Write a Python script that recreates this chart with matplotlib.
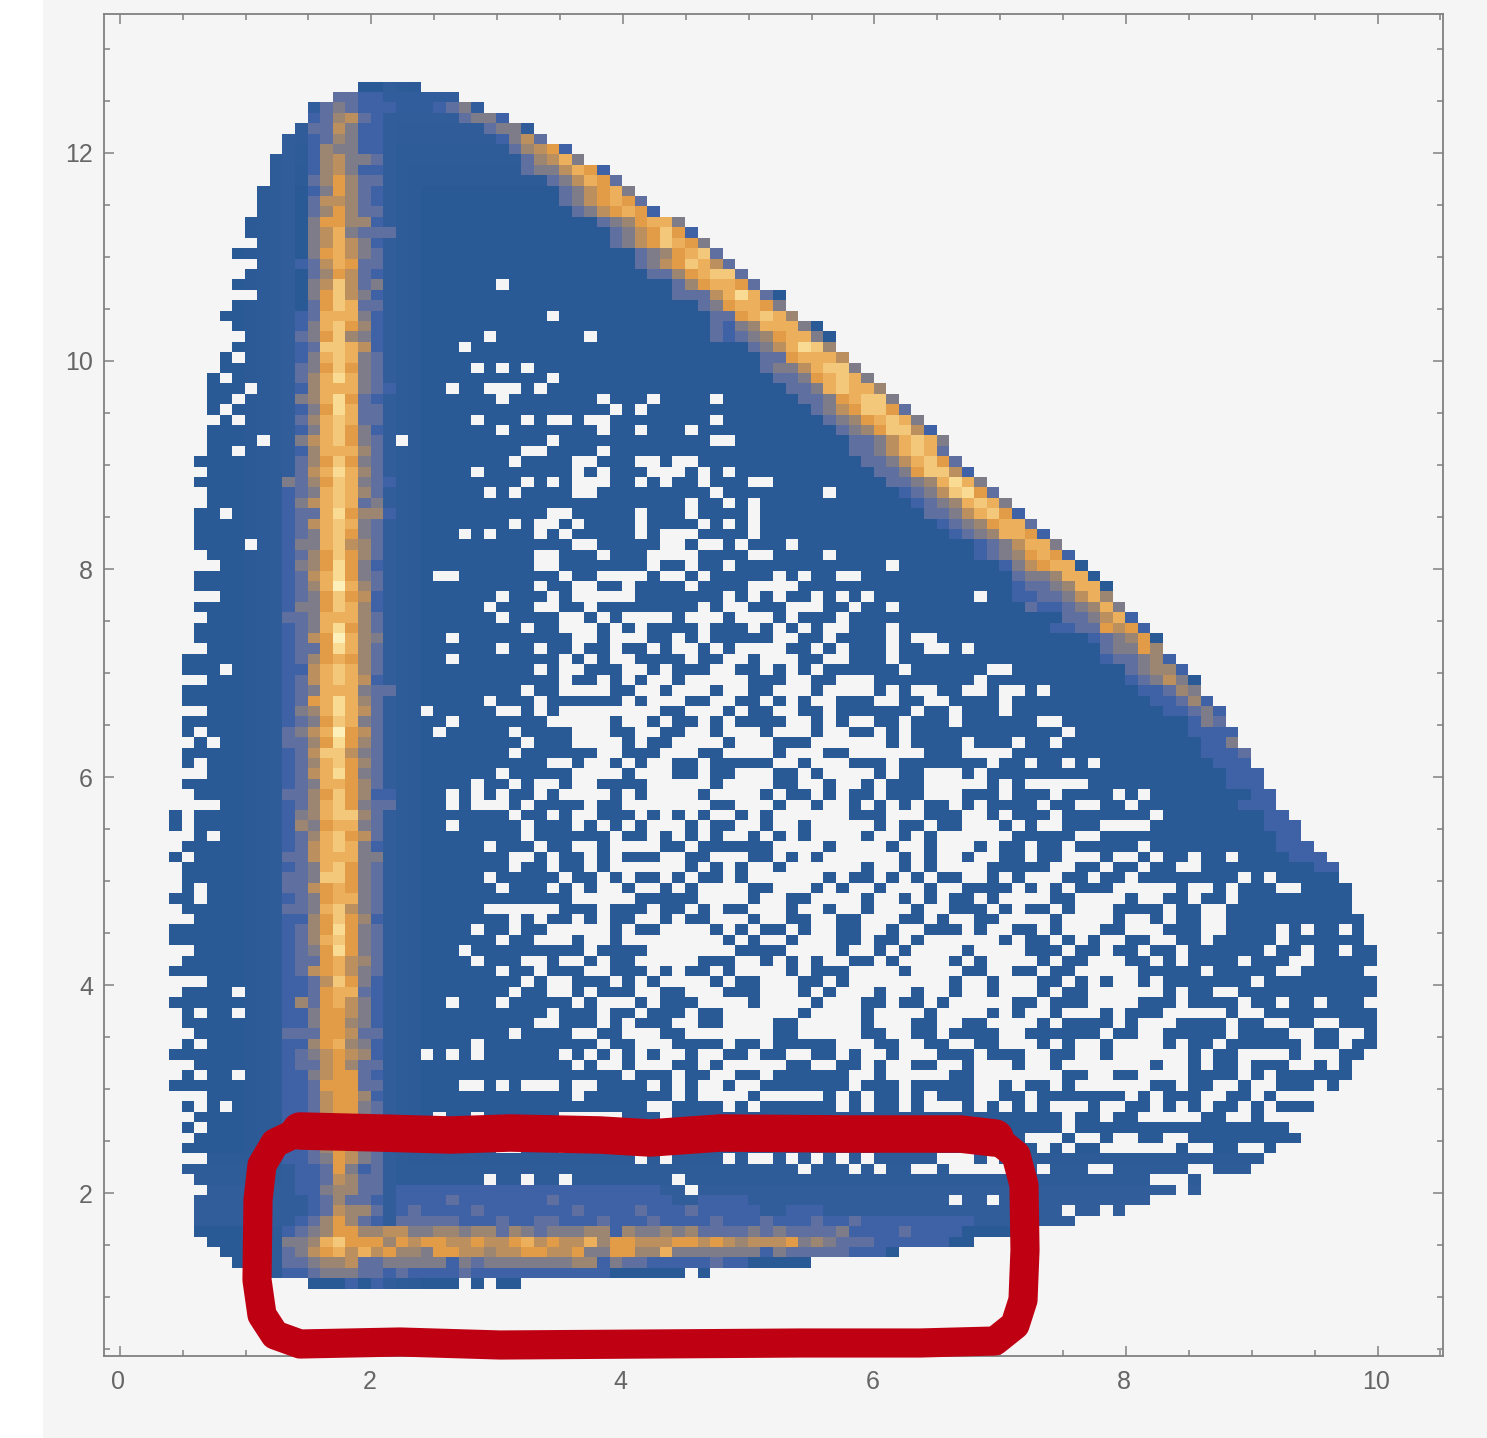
import matplotlib
matplotlib.use('Agg')
import matplotlib.pyplot as plt
import numpy as np
from matplotlib.colors import LinearSegmentedColormap
from matplotlib.lines import Line2D
from matplotlib.patches import Rectangle
from matplotlib.transforms import ScaledTranslation

# histogram cells: one row per y bin, top row first
row_start = [15, 13, 11, 11, 10, 9, 9, 8, 8, 8,
             7, 7, 7, 6, 6, 7, 5, 7, 6, 5,
             7, 5, 4, 5, 6, 5, 4, 4, 3, 3,
             3, 3, 4, 3, 3, 3, 2, 3, 2, 3,
             3, 2, 2, 2, 2, 3, 4, 2, 2, 4,
             2, 3, 2, 2, 3, 1, 1, 3, 1, 1,
             3, 1, 1, 2, 1, 1, 3, 1, 2, 4,
             0, 0, 2, 1, 0, 1, 1, 1, 0, 1,
             2, 0, 0, 2, 1, 0, 3, 1, 0, 1,
             1, 2, 1, 0, 2, 1, 0, 3, 1, 2,
             1, 2, 1, 3, 1, 2, 3, 2, 2, 2,
             2, 3, 4, 5, 7, 11]
row_stop = [20, 23, 25, 27, 29, 30, 32, 33, 35, 36,
            37, 38, 39, 41, 42, 43, 44, 45, 46, 47,
            49, 49, 50, 52, 53, 53, 54, 55, 56, 57,
            58, 59, 60, 61, 62, 62, 63, 64, 65, 66,
            67, 68, 69, 70, 71, 72, 73, 74, 75, 75,
            76, 77, 78, 79, 79, 80, 81, 82, 82, 83,
            84, 84, 85, 85, 86, 86, 87, 87, 88, 88,
            89, 90, 90, 91, 92, 93, 93, 94, 94, 94,
            95, 95, 95, 96, 96, 95, 96, 96, 95, 96,
            96, 96, 96, 95, 94, 94, 93, 88, 91, 87,
            89, 90, 88, 87, 86, 82, 82, 78, 76, 72,
            68, 64, 58, 51, 43, 28]

# empty cells inside each row (column numbers, a-b is a run)
row_holes = [
    "", "", "", "", "", "", "", "", "", "",
    "", "", "", "", "", "", "", "", "", "26",
    "", "", "30", "", "25 33", "23", "5", "24 26 28", "4 30", "6 22 25-27 29",
    "5 26 34 38 43",
    "4 35 37",
    "5 24 28 30-31 33-34 43",
    "26 34 37 41",
    "7 18 30 43-44",
    "5 28-29 34",
    "27 32-33 37-38 40-41",
    "24 32 34 38-40 42 44",
    "28 30 32-34 37 39 42 46-47",
    "25 27 32-33 43 52",
    "41 44 46",
    "4 30-31 37 41 46",
    "27 29-30 32 37 42 44 46",
    "23 25 29 31 37 39-41 46",
    "6 32-33 39-40 42-43 45 49",
    "29-30 34 38-41 46-47 52",
    "29-30 38 41 44 57",
    "21-22 31 34-37 39-40 42 48 50 53-54",
    "29 32-33 36 41 46-49",
    "26 30 32-36 44 46 48 51 53 55 64",
    "25 29-30 33 42 44-45 49-51 54 57",
    "26 31-32 34 36-39 41-43 45-47 49 53",
    "28 31-33 35 37 42 46 48 50 52-53 57",
    "22 32-33 35-37 40 42 48-49 52 57 59-60",
    "26 29 32 35 38 40-41 43 45-48 51 53 57 60-61 63",
    "22 31 33 35-36 41 44-45 47-49 52-53 57",
    "4 29 31-32 36-37 39 43-44 47 49 51 58 65-66",
    "31 34 36 38-39 41-45 49-50 53-55 64",
    "28 31-34 37-38 40-42 44-45 48-50 52-55 57 59-60 63-64 66-67 69",
    "25 29 36 38-40 43-44 47 49 51-52 56-57 60-61 66",
    "20 26-27 29 31-38 41-43 45 48-49 52 59 62 66",
    "22 30-34 36-37 39 42 44 49-50 52 54-55 58 62 69-70",
    "2 21 27 32-34 37-38 41-42 44-46 48-50 52-53 56 58 71",
    "3 28 32-35 37 40-43 45-47 51-56 58 63 67 70",
    "27 34-35 39-41 44-47 49-51 54-59 63-66",
    "2 30-31 33-34 36 38-39 42 48-49 51-53 57 65 68 71 73",
    "26 32-35 37-39 42 45-47 50 52-55 57 60-62 64",
    "24 27 29-30 32-33 38-42 44-47 50-51 53-54 56 60-64 66 68-72",
    "22 24 26 29 31-34 36 38-41 43-46 48 51 53 56 60-62 66 70 75 77",
    "22 24-26 28 33 36-42 45-47 49-50 52-53 55 57 59 62 64 69 72-73 76",
    "1 27 30 32-33 37 39 41 43-44 46 48-53 57-59 63-64 66 70 78",
    "1 22 28 32 34 36 38-40 42 45-46 48-49 51-55 57 60 63-65 67 69-70 74-77",
    "3 28 35 38 40 42 44-45 47 49 51-54 56-57 59 61-66 72-73",
    "25 29 32-33 35-38 41 48-51 53-56 58-59 61-63 65 68 71 77",
    "1 27-28 30 33 35 39-40 43-45 48 50 52-57 59 61-62 64-65 68 71-73 75-76 78 81 84",
    "27 30 33 35-40 42 44 46-47 49-54 56-57 59 61-64 70-71 74 77 80-81",
    "25 31 34 36 39 41 44 46-51 53 56 58 60 63-64 66 68-70 73 76 85 87",
    "2 26 30 32 34-35 37-38 40 42-45 48-50 52 54-55 57-59 61-62 67 69 71 75-79 81-82 84 88-89",
    "2 32-36 42-45 47-48 51-54 56-57 59 61 64 66-69 72-75 77-78 81 84",
    "25-30 34 38 41 43 46-48 50-51 53-54 56-58 60-61 65 67 70 72-74 79 82-83",
    "27 29 32 34 37-38 40 43-45 47-48 51-52 55-57 60 62-63 66-69 71-74 76-77 79 82-83",
    "24 27 30-34 36 39-42 44 46 49 51-52 55-56 58-59 63 65-66 69 71-73 76-78 82-83 88 90 93",
    "26 29-31 33-34 36-43 45 47-48 50-52 55 58 60-65 67 70 72 74-75 78-79 82 88",
    "23 33 38-44 49-52 54-55 57 59-62 64-67 71 74 77 80 87 90 93",
    "24 28-29 31-32 34 37-41 45-46 48 50 52-53 56 58-61 63 65-68 70 73-75 78 80 85 89-90",
    "26 29 33-34 38 40 43 45-48 50 54-57 59-62 65-66 69 72-76 82 88-89",
    "28 30-31 35 37 39-42 44 47-49 52 54-61 63-64 66-68 71 73 75-76 78 86",
    "5 27 30-31 33 37-38 41-43 47-49 51 53-55 57-58 60-61 63-64 66-68 70 73-78 80 83-84",
    "22 26 32 34-36 38 42-45 47-50 52-54 57 60 62-66 69 73-76 80 85 88 91",
    "2 5 30 34 37 41 44-49 51-54 56-59 61-64 66 68-69 71-73 75 79-83 85-86",
    "29-30 34 36 40-41 44-47 50-54 56-58 61-62 65-68 70 75 77-79 84 87-88 91-92",
    "27 32-33 36-38 41-47 50-54 57-58 61 66-67 74 77-78 84 89-90 93-94",
    "2 24 34 37-39 44 47 53-55 58-59 62-63 66-68 70 72-73 75-78 80 83 90 93",
    "20 22 24 31 33 35 37 39-40 42-43 46 49-50 53 55-56 58-60 64 68-69 72-73 75-80 82 85-88 90-92",
    "32 34-35 37-39 42 44-48 51-52 55 57-58 61-62 64-66 68-69 71-77 79-80 82 85 89-90 92",
    "2 5 36 40 43-44 47 54-55 57-61 64-70 73-74 77-80 85 87",
    "23-24 26 28-30 32-33 38 40 42-43 45-46 54 58 64-65 67 70 72-77 80 83-84 86-87 91",
    "32 40 42-45 47-51 53 55 58 60 64-65 68 76 78 82-83 86",
    "2 4 38-39 44 46 53 55 58 60-62 64 66 68 70-72 74-75 78 80 82 85 87",
    "21 24 31-35 39 71 74 77-81 84-85",
    "2 51 71",
    "68-70 72-73 75-76 79-80",
    "26-27 31-33 69 71 74-79 81-82 85-86",
    "37 39 44 46-47 49 51 53 55 61-63 65",
    "50 54 56 59-60 62-66 69 73-74 81-82",
    "25 28 31 40 78-80",
    "41 80",
    "62 65",
    "71 74",
    "", "", "", "", "", "41", "23 25",
]

# colour level of the vertical band, columns 9 to 17, one string per row
stem_levels = [
    "000000000", "000022110", "000232111", "001245210", "002253110",
    "001243110", "001433110", "001453320", "001453110", "002464220",
    "001364210", "002554210", "002464220", "003664410", "003573222",
    "003575310", "003675320", "012576220", "002465210", "003585230",
    "003685310", "002687220", "012777310", "013786410", "023684310",
    "012887510", "013787320", "023686320", "024797320", "014777321",
    "034796210", "013697220", "024787220", "013786310", "035786320",
    "014777420", "024686320", "025797420", "324687321", "123787420",
    "135787230", "122796441", "125787320", "123786320", "133785420",
    "124686420", "134696310", "125796320", "1247a7420", "123686510",
    "133687410", "223777420", "123796420", "1256a7430", "122697420",
    "124676420", "115787420", "125787510", "123777322", "126797420",
    "134797520", "123687320", "2357a6520", "224696420", "125885320",
    "124786420", "125796320", "123776420", "224686411", "124786322",
    "134788420", "143677320", "124786520", "125787310", "225777330",
    "123786320", "223886320", "225676320", "123677320", "223785320",
    "114686410", "124696320", "124786320", "123696320", "122675420",
    "125675320", "112586310", "112677210", "142675310", "113665310",
    "113664310", "222665220", "114674310", "123565410", "122564220",
    "113566210", "112666220", "112566410", "112566320", "112566320",
    "112566320", "111255430", "112465320", "112365320", "011263120",
    "011254220", "011344220", "001242210", "001254420", "012464210",
    "123466445", "334786664", "235675756", "223445223", "112333221",
    "000001010",
]

# colour level of the diagonal band, last cells of rows 2 to 75
edge_levels = [
    "1230", "2331", "2330", "1352", "24561", "24573", "2335761", "235762",
    "235673", "2356762", "2356761", "2346773", "2356861", "23568763", "2346782",
    "23568752", "22467882", "2467762", "222579720", "2367763", "2267874",
    "213477730", "2123467730", "2357984", "2267775", "23357883", "22367873",
    "22378774", "22367883", "23568862", "23467873", "23468851", "22357873",
    "22357872", "22357862", "22368851", "22347973", "12358962", "12347873",
    "22357861", "12346772", "12347761", "1235773", "12346761", "1356770",
    "2334770", "12234770", "11223574", "21123473", "223571", "11226561", "123460",
    "23364", "122341", "23441", "123530", "11243", "11241", "11231", "132",
    "1111", "113", "1112", "0111", "111", "0111", "011", "111", "011", "111",
    "011", "111", "111", "011",
]

# colour level of the horizontal band from column 18, rows 106 to 115
foot_levels = [
    "1111111111111111111110000000000",
    "1111211111112111111111001111000",
    "1211112111111121111211121111100111",
    "22222111211221112111211112111211121121111111110",
    "5334434424323334414334342222323222231111211110",
    "65665565567565574665556656545556343222111111",
    "44366554556655633664473333333132222211100",
    "3333132333333344132211111211000",
    "2111121111111111100000",
    "0000000000",
]

# slightly lighter blue near the top and bottom rows, and beside the band
row_shade = {1: .4, 2: .4, 3: .35, 4: .3, 5: .3, 6: .2, 7: .2, 8: .15, 9: .1,
             103: .1, 104: .2, 105: .2, 106: .35, 107: .35, 108: .35, 109: .35}
column_shade = {6: .05, 7: .1, 8: .2, 9: .35, 17: .35, 18: .2, 19: .1}

level_colors = ['#2a5a96', '#3f62a6', '#5f6f9f', '#7e7c88', '#9c8672', '#bb8f5e',
                '#e29c48', '#ecb05c', '#f4c87a', '#fadb93', '#fdf0ba']

x_major = [0, 2, 4, 6, 8, 10]
y_major = [2, 4, 6, 8, 10, 12]
x_minor = np.arange(0, 10.6, 0.5)
y_minor = np.arange(0.5, 13.1, 0.5)

# hand-drawn red loop, in picture pixels
loop_x = [300, 380, 450, 510, 600, 650, 720, 850, 960, 995, 1016, 1024, 1025, 1023, 1015,
          995, 920, 800, 650, 500, 400, 300, 275, 262, 257, 258, 262, 275, 300]
loop_y = [1131, 1133, 1135, 1133, 1135, 1138, 1133, 1134, 1134, 1138, 1155, 1185, 1250, 1300, 1325,
          1341, 1343, 1343, 1344, 1345, 1342, 1344, 1335, 1315, 1280, 1200, 1165, 1143, 1131]

n_rows, n_cols = 116, 96
x_edges = 0.394 + 0.1 * np.arange(n_cols + 1)
y_edges = 12.685 - 0.1 * np.arange(n_rows + 1)


def parse_holes(text):
    cols = []
    for part in text.split():
        if '-' in part:
            a, b = part.split('-')
            cols.extend(range(int(a), int(b) + 1))
        else:
            cols.append(int(part))
    return cols


# build the grid of levels from the lists above
grid = np.full((n_rows, n_cols), np.nan)
for r in range(n_rows):
    grid[r, row_start[r]:row_stop[r]] = row_shade.get(r, 0)
    for c, shade in column_shade.items():
        if row_start[r] <= c < row_stop[r]:
            grid[r, c] = max(grid[r, c], shade)
    for i, ch in enumerate(stem_levels[r]):
        c = 9 + i
        if row_start[r] <= c < row_stop[r]:
            grid[r, c] = max(grid[r, c], int(ch, 16))
    if 2 <= r <= 75:
        levels = edge_levels[r - 2]
        for i, ch in enumerate(levels):
            c = row_stop[r] - len(levels) + i
            grid[r, c] = max(grid[r, c], int(ch, 16))
    if r >= 106:
        for i, ch in enumerate(foot_levels[r - 106]):
            c = 18 + i
            if row_start[r] <= c < row_stop[r]:
                grid[r, c] = max(grid[r, c], int(ch, 16))
    for c in parse_holes(row_holes[r]):
        grid[r, c] = np.nan

cmap = LinearSegmentedColormap.from_list('dalitz', level_colors, N=256)
cmap.set_bad('#f5f5f5')

fig = plt.figure(figsize=(14.87, 14.38), dpi=100, facecolor='white')
fig.patches.append(Rectangle((43 / 1487, 0), 1 - 43 / 1487, 1, transform=fig.transFigure,
                             facecolor='#f5f5f5', edgecolor='none', zorder=-1))

ax = fig.add_axes([104 / 1487, (1438 - 1356) / 1438, (1443 - 104) / 1487, (1356 - 14) / 1438])
ax.set_facecolor('#f5f5f5')
ax.pcolormesh(x_edges, y_edges, np.ma.masked_invalid(grid), cmap=cmap, vmin=0, vmax=10,
              antialiased=False, linewidth=0)

ax.set_xlim(-0.125, 10.52)
ax.set_ylim(0.437, 13.335)
ax.set_xticks(x_major)
ax.set_yticks(y_major)
ax.set_xticks(x_minor, minor=True)
ax.set_yticks(y_minor, minor=True)
ax.tick_params(which='both', direction='in', top=True, right=True, color='#808080', width=1.1)
ax.tick_params(which='major', length=7, labelsize=18, labelcolor='#666666')
ax.tick_params(axis='x', which='major', pad=10)
ax.tick_params(axis='y', which='major', pad=8)
ax.tick_params(which='minor', length=4)
for label in ax.get_xticklabels() + ax.get_yticklabels():
    label.set_family('Liberation Sans')
shift = ScaledTranslation(-2 / 100, 0, fig.dpi_scale_trans)
for label in ax.get_xticklabels():
    label.set_transform(label.get_transform() + shift)
for spine in ax.spines.values():
    spine.set_color('#808080')
    spine.set_linewidth(1.3)

# the loop is drawn twice: the top stroke of the original is thicker
loop_fx = [px / 1487 for px in loop_x]
loop_fy = [1 - py / 1438 for py in loop_y]
fig.add_artist(Line2D(loop_fx, loop_fy, color='#bf0013', linewidth=21, solid_joinstyle='round',
                      solid_capstyle='round', zorder=5))
fig.add_artist(Line2D(loop_fx[:10], loop_fy[:10], color='#bf0013', linewidth=27, solid_joinstyle='round',
                      solid_capstyle='round', zorder=5))

fig.savefig('out.png', dpi=100, facecolor=fig.get_facecolor())
